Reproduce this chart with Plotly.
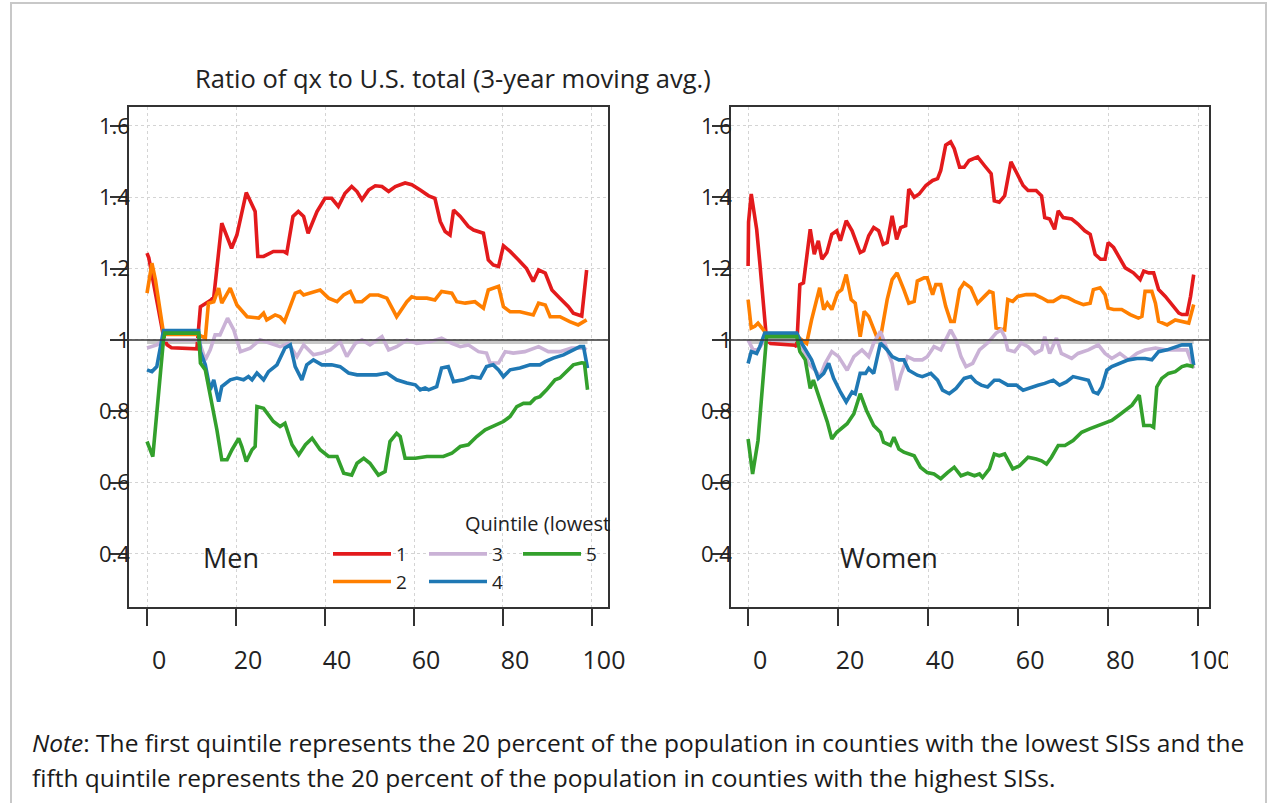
import plotly.graph_objects as go

W, H = 1270, 803

# ---------------- data (ages, ratio of qx to U.S. total) ----------------
men_q1_age = [0, 0.4, 3.7, 4.5, 5.5, 11.2, 12, 14.2, 15, 16.8, 19, 20.2, 22.3, 24.3, 24.9, 26.2, 28.4, 30.7, 31.4, 32.8, 34, 35.2, 36.2, 38.2, 40, 41.5, 43, 44.5, 46, 47.2, 48.3, 49.8, 51.3, 52.8, 54.3, 55.8, 58, 59.5, 61.4, 63.3, 64.7, 65.9, 67, 68.1, 68.9, 70.4, 72.2, 73.4, 75.6, 76.7, 77.8, 79, 80.1, 81.6, 83.5, 85.3, 86.8, 88, 89.5, 91, 92.8, 94.7, 95.8, 97.7, 98.8]
men_q1 = [1.243, 1.23, 1.01, 0.986, 0.978, 0.975, 1.093, 1.11, 1.12, 1.327, 1.257, 1.294, 1.413, 1.36, 1.234, 1.234, 1.248, 1.248, 1.243, 1.346, 1.36, 1.346, 1.299, 1.36, 1.397, 1.397, 1.374, 1.411, 1.43, 1.416, 1.393, 1.42, 1.432, 1.43, 1.416, 1.43, 1.44, 1.435, 1.42, 1.404, 1.397, 1.332, 1.304, 1.294, 1.364, 1.346, 1.318, 1.308, 1.299, 1.224, 1.21, 1.206, 1.264, 1.248, 1.224, 1.2, 1.164, 1.196, 1.187, 1.14, 1.117, 1.093, 1.075, 1.067, 1.196]

men_q2_age = [0, 1.1, 1.9, 3.7, 4.5, 11.5, 12.3, 13.1, 13.8, 15, 16.1, 16.8, 18.7, 20.2, 22.5, 25.1, 26.2, 26.9, 28.8, 29.9, 30.9, 33.3, 34.4, 35.2, 38.9, 40.8, 42.7, 44.2, 45.7, 46.8, 48.3, 50.1, 52, 53.9, 56.1, 58.4, 59.5, 60.6, 62.9, 64.7, 66.2, 68.5, 69.6, 71.5, 73.7, 75.6, 76.7, 79, 80.1, 81.6, 83.8, 85.3, 86.8, 88, 89.5, 90.6, 92.8, 95, 96.9, 98.8]
men_q2 = [1.131, 1.215, 1.168, 1.019, 1.015, 1.015, 1.01, 1.005, 1.103, 1.107, 1.145, 1.103, 1.145, 1.098, 1.065, 1.061, 1.075, 1.056, 1.07, 1.065, 1.051, 1.131, 1.136, 1.126, 1.14, 1.117, 1.107, 1.126, 1.136, 1.107, 1.107, 1.126, 1.126, 1.117, 1.065, 1.107, 1.121, 1.117, 1.117, 1.112, 1.136, 1.131, 1.107, 1.103, 1.107, 1.089, 1.14, 1.15, 1.093, 1.079, 1.079, 1.075, 1.07, 1.103, 1.098, 1.065, 1.065, 1.051, 1.042, 1.056]

men_q3_age = [0, 2.2, 3.7, 11.6, 13.1, 14.2, 15.3, 16.4, 18.1, 19.5, 21, 23.2, 25.4, 27.7, 29.9, 31.8, 33.7, 35.2, 37.4, 39.3, 41.2, 43.4, 44.9, 46.8, 48.3, 50.1, 52.8, 54.3, 56.1, 58.4, 60.6, 63.6, 66.2, 68.5, 70.4, 72.2, 74.5, 76.3, 77.1, 79, 80.5, 82.3, 84.9, 88, 90.2, 92.8, 95.4, 98.1, 98.8]
men_q3 = [0.977, 0.986, 1.0, 1.0, 0.944, 0.972, 1.014, 1.014, 1.061, 1.028, 0.967, 0.977, 1.0, 0.99, 0.981, 0.99, 0.953, 0.986, 0.958, 0.963, 0.972, 0.995, 0.953, 0.99, 1.0, 0.986, 1.009, 0.972, 0.981, 1.0, 0.99, 0.995, 1.005, 0.99, 0.981, 0.986, 0.967, 0.963, 0.935, 0.935, 0.967, 0.963, 0.967, 0.981, 0.967, 0.967, 0.977, 0.977, 0.972]

men_q4_age = [0, 1.1, 2.2, 3.4, 3.7, 11.6, 12, 13.1, 14.2, 15, 16.1, 16.8, 18.7, 20.2, 21.7, 22.8, 23.6, 24.7, 26.2, 27.3, 29.2, 31, 32.2, 33.3, 34.8, 35.9, 37.4, 39.3, 41.5, 43.4, 45.3, 47.2, 49.4, 51.6, 53.9, 56.1, 58.4, 60.3, 61.4, 62.5, 63.3, 65.1, 66.2, 67.7, 68.9, 71.1, 73, 74.9, 76.3, 77.8, 79, 80.1, 81.6, 83.8, 86.1, 88.3, 89.5, 91.3, 93.6, 95.8, 97.3, 98.1, 99]
men_q4 = [0.916, 0.911, 0.925, 1.0, 1.026, 1.026, 0.967, 0.93, 0.86, 0.888, 0.827, 0.869, 0.888, 0.893, 0.888, 0.897, 0.888, 0.907, 0.888, 0.911, 0.93, 0.977, 0.986, 0.925, 0.888, 0.93, 0.944, 0.93, 0.93, 0.925, 0.907, 0.902, 0.902, 0.902, 0.907, 0.888, 0.879, 0.874, 0.86, 0.865, 0.86, 0.869, 0.921, 0.925, 0.883, 0.888, 0.897, 0.893, 0.925, 0.93, 0.916, 0.897, 0.916, 0.921, 0.93, 0.93, 0.939, 0.949, 0.958, 0.972, 0.981, 0.981, 0.921]

men_q5_age = [0, 1.3, 3.7, 4, 11.6, 12, 13.1, 14.6, 15.7, 16.8, 18, 19.1, 20.6, 21.3, 22.3, 23.6, 24.3, 24.7, 26.2, 28.4, 29.9, 31, 32.6, 34.1, 35.6, 37.1, 38.9, 40.8, 42.7, 44.2, 46, 47.2, 48.7, 50.1, 52, 53.5, 54.6, 56.1, 56.9, 58, 60.3, 62.9, 64.4, 66.6, 68.5, 70.4, 72.2, 74.1, 76, 77.8, 80.1, 81.6, 83.1, 84.6, 86.1, 87.2, 88.3, 89.8, 91.7, 92.8, 94.3, 95.8, 97.7, 98.3, 99]
men_q5 = [0.715, 0.673, 1.0, 1.019, 1.019, 0.935, 0.916, 0.822, 0.748, 0.664, 0.664, 0.692, 0.724, 0.701, 0.659, 0.692, 0.701, 0.813, 0.808, 0.771, 0.757, 0.766, 0.706, 0.678, 0.706, 0.724, 0.692, 0.673, 0.673, 0.626, 0.621, 0.654, 0.668, 0.654, 0.621, 0.631, 0.715, 0.738, 0.729, 0.668, 0.668, 0.673, 0.673, 0.673, 0.682, 0.701, 0.706, 0.729, 0.748, 0.757, 0.771, 0.785, 0.813, 0.822, 0.822, 0.836, 0.841, 0.86, 0.888, 0.893, 0.911, 0.93, 0.936, 0.935, 0.86]

women_q1_age = [0, 0.1, 0.7, 1.9, 2.6, 3.4, 4.1, 5, 10.4, 10.8, 11.5, 12.3, 13.8, 14.7, 15.6, 16.4, 17.5, 18.6, 19.7, 20.5, 21.8, 23.1, 23.8, 24.9, 25.7, 26.8, 27.9, 29, 30, 30.9, 32, 33, 33.9, 35, 35.7, 36.9, 38, 39.5, 41, 42.1, 42.8, 43.9, 45, 45.8, 47, 48, 49.1, 51, 52.5, 54, 54.7, 55.8, 57, 58.4, 59.6, 61.1, 62.2, 64, 65.2, 65.9, 67, 68.1, 68.9, 70, 71.9, 73.3, 74.8, 76, 77.1, 78.3, 79.3, 80, 81.2, 82.6, 83.8, 85.6, 87.1, 87.9, 89, 90.1, 91.2, 92.7, 94.2, 95.7, 96.4, 97.5, 98.3, 99]
women_q1 = [1.207, 1.33, 1.409, 1.31, 1.216, 1.085, 1.0, 0.99, 0.985, 0.981, 1.155, 1.16, 1.31, 1.24, 1.278, 1.226, 1.245, 1.296, 1.306, 1.278, 1.334, 1.306, 1.282, 1.245, 1.25, 1.292, 1.315, 1.306, 1.268, 1.273, 1.348, 1.282, 1.315, 1.32, 1.423, 1.4, 1.409, 1.433, 1.447, 1.452, 1.475, 1.546, 1.555, 1.536, 1.484, 1.484, 1.503, 1.513, 1.489, 1.466, 1.39, 1.386, 1.404, 1.499, 1.47, 1.433, 1.419, 1.419, 1.404, 1.343, 1.339, 1.31, 1.362, 1.343, 1.339, 1.325, 1.306, 1.296, 1.24, 1.226, 1.226, 1.273, 1.259, 1.23, 1.202, 1.188, 1.169, 1.193, 1.188, 1.188, 1.141, 1.122, 1.099, 1.075, 1.071, 1.071, 1.122, 1.183]

women_q2_age = [0, 0.7, 1.5, 2.2, 3.4, 4.1, 10.4, 11.5, 13, 14.1, 14.9, 15.9, 16.8, 17.6, 18.6, 19.9, 20.8, 21.8, 22.9, 23.8, 24.9, 25.8, 26.8, 27.9, 28.7, 29.4, 30.9, 32, 33.1, 34.6, 35.7, 36.9, 37.6, 39.1, 39.8, 41, 41.7, 42.8, 43.9, 45, 45.8, 47, 48, 49.5, 51, 52.5, 53.6, 54.4, 55.1, 57, 57.7, 58.8, 59.9, 61.8, 63.7, 65.2, 66.6, 67.8, 69.6, 71.1, 72.6, 74.5, 76, 76.7, 78.2, 79.3, 80, 81.2, 83, 84.9, 86.7, 87.5, 88.2, 89.7, 90.5, 91.2, 93.1, 94.9, 96.4, 97.9, 99]
women_q2 = [1.113, 1.033, 1.038, 1.047, 1.028, 1.014, 1.014, 1.005, 0.99, 1.056, 1.094, 1.146, 1.085, 1.103, 1.085, 1.132, 1.141, 1.183, 1.113, 1.103, 1.009, 1.08, 1.066, 1.028, 1.005, 1.005, 1.113, 1.169, 1.188, 1.141, 1.103, 1.108, 1.165, 1.174, 1.174, 1.127, 1.155, 1.155, 1.094, 1.052, 1.052, 1.141, 1.16, 1.146, 1.103, 1.122, 1.136, 1.132, 1.033, 1.028, 1.113, 1.108, 1.122, 1.127, 1.127, 1.118, 1.108, 1.108, 1.122, 1.118, 1.108, 1.099, 1.103, 1.141, 1.146, 1.127, 1.089, 1.085, 1.085, 1.071, 1.061, 1.066, 1.136, 1.136, 1.103, 1.052, 1.042, 1.056, 1.052, 1.047, 1.099]

women_q3_age = [0, 1.1, 2.2, 3.7, 11.2, 12.3, 13.4, 14.9, 16, 17.1, 18.6, 20.1, 22, 23.5, 25.3, 26.8, 27.9, 29.4, 30.9, 32, 33, 33.9, 35.4, 36.9, 38.7, 39.8, 41.3, 42.8, 43.9, 45, 46.2, 47.3, 48.4, 49.9, 51.4, 53.2, 55.1, 56.2, 57, 57.7, 59.2, 60.7, 62.2, 63.7, 65.2, 65.9, 67, 68.5, 69.6, 71.9, 73.3, 75.6, 77.8, 79.3, 80.8, 82.6, 84.5, 86.4, 88.2, 90.5, 92.7, 94.9, 97.5, 99]
women_q3 = [1.0, 0.972, 0.972, 1.0, 1.0, 0.972, 0.934, 0.915, 0.897, 0.934, 0.967, 0.953, 0.915, 0.953, 0.972, 0.953, 0.991, 1.024, 0.972, 0.934, 0.859, 0.901, 0.953, 0.944, 0.944, 0.953, 0.981, 0.972, 1.0, 1.028, 1.0, 0.953, 0.925, 0.934, 0.972, 0.991, 1.019, 1.028, 1.009, 0.972, 0.967, 0.991, 0.981, 0.962, 0.972, 1.009, 0.962, 1.005, 0.962, 0.948, 0.962, 0.972, 0.986, 0.962, 0.948, 0.962, 0.944, 0.962, 0.972, 0.977, 0.972, 0.972, 0.972, 0.92]

women_q4_age = [0, 0.7, 1.9, 2.6, 3.7, 10.8, 11.9, 13, 14.1, 15.6, 16.8, 17.9, 19, 20.5, 21.8, 23.1, 23.8, 24.9, 26.1, 26.8, 27.9, 29.4, 30.9, 32, 33.5, 34.6, 35.7, 37.6, 38.7, 40.6, 42.1, 43.2, 44.7, 46.2, 48, 49.5, 50.6, 51.8, 53.2, 54.7, 55.8, 57.7, 59.6, 61.1, 62.9, 64.4, 65.9, 67.8, 69.2, 70.7, 72.2, 73.7, 75.6, 76.7, 77.7, 78.6, 79.7, 80.8, 82.6, 84.5, 86.4, 88.2, 89.7, 91.2, 93.1, 94.9, 96.4, 98.3, 99]
women_q4 = [0.934, 0.967, 0.962, 0.981, 1.019, 1.019, 0.991, 0.967, 0.944, 0.892, 0.906, 0.934, 0.892, 0.854, 0.826, 0.854, 0.849, 0.906, 0.906, 0.92, 0.906, 0.991, 0.972, 0.953, 0.944, 0.944, 0.915, 0.901, 0.897, 0.906, 0.887, 0.859, 0.849, 0.864, 0.892, 0.897, 0.882, 0.873, 0.868, 0.887, 0.887, 0.873, 0.873, 0.859, 0.868, 0.873, 0.878, 0.887, 0.873, 0.882, 0.897, 0.892, 0.887, 0.854, 0.849, 0.868, 0.915, 0.925, 0.934, 0.944, 0.948, 0.948, 0.944, 0.967, 0.972, 0.981, 0.986, 0.986, 0.929]

women_q5_age = [0, 1, 2.2, 3.4, 4.1, 10.8, 11.5, 12.7, 13.8, 14.5, 16.4, 17.6, 18.6, 19.7, 22, 23.5, 24.9, 26.3, 27.9, 29.4, 30.1, 31.6, 32.4, 33.5, 34.6, 36.9, 38.3, 39.8, 41.3, 42.8, 44.3, 45.8, 47.3, 48.8, 50.3, 51.4, 52.1, 53.6, 54.7, 55.8, 57, 58.8, 60.3, 62.2, 64, 65.2, 66.3, 67.4, 68.9, 70.4, 72.2, 74.1, 76, 77.8, 79.3, 80.8, 82.3, 83.8, 85.3, 86.9, 87.9, 89.4, 90.1, 90.8, 91.9, 93.4, 94.9, 96.4, 97.5, 99]
women_q5 = [0.722, 0.624, 0.718, 0.915, 1.009, 1.009, 0.967, 0.944, 0.864, 0.887, 0.812, 0.77, 0.722, 0.741, 0.765, 0.793, 0.849, 0.802, 0.76, 0.741, 0.713, 0.704, 0.727, 0.694, 0.685, 0.675, 0.643, 0.628, 0.624, 0.611, 0.628, 0.643, 0.619, 0.626, 0.619, 0.624, 0.614, 0.638, 0.68, 0.675, 0.68, 0.638, 0.647, 0.671, 0.666, 0.661, 0.652, 0.671, 0.704, 0.704, 0.718, 0.741, 0.751, 0.76, 0.765, 0.774, 0.788, 0.802, 0.817, 0.845, 0.76, 0.76, 0.755, 0.868, 0.892, 0.906, 0.911, 0.925, 0.929, 0.925]

quintile_names = ["1", "2", "3", "4", "5"]
quintile_colors = ["#e31a1c", "#ff7f00", "#cab2d6", "#1f78b4", "#33a02c"]
x_ticks = [0, 20, 40, 60, 80, 100]
y_ticks = [0.4, 0.6, 0.8, 1.0, 1.2, 1.4, 1.6]
y_tick_text = ["0.4", "0.6", "0.8", "1", "1.2", "1.4", "1.6"]
ref_age = [0, 99]

men_series = [(men_q1_age, men_q1), (men_q2_age, men_q2), (men_q3_age, men_q3), (men_q4_age, men_q4), (men_q5_age, men_q5)]
women_series = [(women_q1_age, women_q1), (women_q2_age, women_q2), (women_q3_age, women_q3), (women_q4_age, women_q4), (women_q5_age, women_q5)]

# legend placement: columns (1,2), (3,4), (5)
legend_of = ["legend", "legend", "legend2", "legend2", "legend3"]

fig = go.Figure()

for i, (ages, vals) in enumerate(men_series):
    fig.add_trace(go.Scatter(
        x=ages, y=vals, mode="lines", name=quintile_names[i],
        line=dict(color=quintile_colors[i], width=3.6),
        xaxis="x", yaxis="y", legendgroup="q" + quintile_names[i],
        legend=legend_of[i], showlegend=True,
    ))
for i, (ages, vals) in enumerate(women_series):
    fig.add_trace(go.Scatter(
        x=ages, y=vals, mode="lines", name=quintile_names[i],
        line=dict(color=quintile_colors[i], width=3.6),
        xaxis="x2", yaxis="y2", legendgroup="q" + quintile_names[i],
        showlegend=False,
    ))

def px_x(p):
    return p / W

def px_y(p):
    return 1 - p / H

tick_font = dict(family="Open Sans", size=22, color="#222222")
xtick_font = dict(family="Open Sans", size=25, color="#222222")
grid_kw = dict(showgrid=True, gridcolor="#d4d4d4", gridwidth=1, griddash="3px,3px")
axis_common = dict(showline=True, linecolor="#333333", linewidth=1.5, mirror=True, automargin=False,
                   ticks="outside", tickcolor="#333333", tickwidth=1.5, zeroline=False, **grid_kw)

fig.update_layout(
    width=W, height=H, autosize=False,
    margin=dict(l=0, r=0, t=0, b=0, autoexpand=False),
    paper_bgcolor="white", plot_bgcolor="white",
    xaxis=dict(domain=[px_x(129), px_x(608)], range=[-4.05, 103.6], anchor="y",
               tickvals=x_ticks, ticklen=17, tickfont=xtick_font,
               ticklabelstandoff=13, ticklabelshift=12, **axis_common),
    yaxis=dict(domain=[px_y(607), px_y(107)], range=[0.251, 1.653], anchor="x",
               tickvals=y_ticks, ticktext=y_tick_text, ticklen=17, tickfont=tick_font,
               ticklabelstandoff=-24, **axis_common),
    xaxis2=dict(domain=[px_x(731), px_x(1209)], range=[-3.8, 102.4], anchor="y2",
                tickvals=x_ticks, ticklen=17, tickfont=xtick_font,
                ticklabelstandoff=13, ticklabelshift=12, **axis_common),
    yaxis2=dict(domain=[px_y(607), px_y(107)], range=[0.251, 1.653], anchor="x2",
                tickvals=y_ticks, ticktext=y_tick_text, ticklen=17, tickfont=tick_font,
                ticklabelstandoff=-24, **axis_common),
    font=dict(family="Open Sans", color="#222222"),
    showlegend=True,
)

leg_common = dict(orientation="v", xanchor="left", yanchor="top", bgcolor="rgba(0,0,0,0)",
                  font=dict(family="Open Sans", size=19, color="#222222"),
                  tracegroupgap=0, itemwidth=58, traceorder="grouped", itemclick=False)
fig.update_layout(
    legend=dict(x=px_x(328), y=px_y(535), **leg_common),
    legend2=dict(x=px_x(424), y=px_y(535), **leg_common),
    legend3=dict(x=px_x(518), y=px_y(535), **leg_common),
)

shapes = []
for xr, yr, xa in [("x", "y", "x domain"), ("x2", "y2", "x2 domain")]:
    # U.S. total reference (ratio = 1), light grey, sits just under the black line
    shapes.append(dict(type="line", xref=xr, yref=yr, x0=ref_age[0], x1=ref_age[1],
                       yanchor=1.0, ysizemode="pixel", y0=-2, y1=-2,
                       line=dict(color="#c8c8c8", width=4), layer="between"))
    shapes.append(dict(type="line", xref=xa, yref=yr, x0=0, x1=1, y0=1.0, y1=1.0,
                       line=dict(color="#333333", width=1.5), layer="above"))
# outer frame
shapes.append(dict(type="rect", xref="paper", yref="paper", x0=px_x(11), x1=px_x(1266),
                   y0=px_y(812), y1=px_y(3), line=dict(color="#c8c8c8", width=2),
                   fillcolor="rgba(0,0,0,0)", layer="above"))
# right side of the source image is cut off
shapes.append(dict(type="rect", xref="paper", yref="paper", x0=px_x(1228), x1=px_x(1262),
                   y0=px_y(690), y1=px_y(632), line=dict(width=0), fillcolor="white", layer="above"))
fig.update_layout(shapes=shapes)

annotations = [
    dict(text="Ratio of qx to U.S. total (3-year moving avg.)", x=px_x(193), y=px_y(78),
         xanchor="left", yanchor="middle", font=dict(family="Open Sans", size=25.5, color="#222222")),
    dict(text="Men", x=px_x(231), y=px_y(557), xanchor="center", yanchor="middle",
         font=dict(family="Open Sans", size=27, color="#222222")),
    dict(text="Women", x=px_x(889), y=px_y(557), xanchor="center", yanchor="middle",
         font=dict(family="Open Sans", size=27, color="#222222")),
    dict(text="Quintile (lowest", x=px_x(463), y=px_y(523), xanchor="left", yanchor="middle",
         font=dict(family="Open Sans", size=20, color="#222222")),
    dict(text="<i>Note</i>: The first quintile represents the 20 percent of the population in counties with the lowest SISs and the",
         x=px_x(30), y=px_y(742), xanchor="left", yanchor="middle",
         font=dict(family="Open Sans", size=24.5, color="#1a1a1a")),
    dict(text="fifth quintile represents the 20 percent of the population in counties with the highest SISs.",
         x=px_x(30), y=px_y(777), xanchor="left", yanchor="middle",
         font=dict(family="Open Sans", size=24.5, color="#1a1a1a")),
]
for a in annotations:
    a.update(xref="paper", yref="paper", showarrow=False)
fig.update_layout(annotations=annotations)

fig.write_html("out.html",
               config={"responsive": False, "displayModeBar": False},
               post_script="document.body.style.margin='0';document.documentElement.style.overflow='hidden';")
